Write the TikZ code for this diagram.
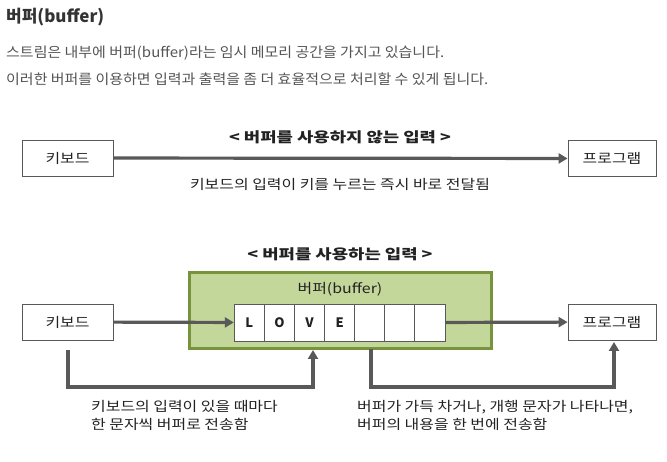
\documentclass[tikz,border=0pt]{standalone}
\usepackage{fontspec}
\setmainfont{Noto Sans CJK KR}
\newfontfamily\bodyfont[FakeStretch=1.07]{Noto Sans CJK KR}
\newfontfamily\diafont[FakeStretch=1.18]{Noto Sans CJK KR}
\newfontfamily\hdrfont[FakeStretch=1.27]{Noto Sans CJK KR}
\usetikzlibrary{arrows.meta}
\definecolor{titlec}{HTML}{333333}
\definecolor{bodyc}{HTML}{555555}
\definecolor{txtc}{HTML}{222222}
\definecolor{linec}{HTML}{595959}
\definecolor{boxc}{HTML}{595959}
\definecolor{gfill}{HTML}{C4D79B}
\definecolor{gdraw}{HTML}{77933C}
\tikzset{
  x=1pt,y=-1pt,
  plain/.style={inner sep=0pt,text=txtc,font=\diafont\fontsize{13.5}{16}\selectfont},
  hdr/.style={inner sep=0pt,text=txtc,font=\hdrfont\fontsize{14}{16}\selectfont\bfseries},
  devbox/.style={draw=boxc,line width=0.8pt,fill=white,minimum width=91pt,minimum height=36pt,inner sep=0pt,text=txtc,font=\diafont\fontsize{13.5}{16}\selectfont},
  cellbox/.style={draw=boxc,line width=0.8pt,fill=white,minimum width=30.1pt,minimum height=37pt,inner sep=0pt,text=txtc,font=\fontsize{13}{16}\selectfont\bfseries},
  conn/.style={draw=linec,line width=3.2pt,-{Triangle[length=9pt,width=10pt]}},
  conn2/.style={draw=linec,line width=3.2pt},
  note/.style={inner sep=0pt,text=txtc,align=left,font=\diafont\fontsize{13.5}{18}\selectfont}
}
\begin{document}
\begin{tikzpicture}
\useasboundingbox (0,0) rectangle (667,462);
\fill[white] (0,0) rectangle (667,462);
% header texts
\node[anchor=west,inner sep=0pt,text=titlec,font=\fontsize{17}{20}\selectfont\bfseries] (title) at (6,17) {버퍼(buffer)};
\node[anchor=west,inner sep=0pt,text=bodyc,font=\bodyfont\fontsize{14}{17}\selectfont] (l1) at (6,53) {스트림은 내부에 버퍼(buffer)라는 임시 메모리 공간을 가지고 있습니다.};
\node[anchor=west,inner sep=0pt,text=bodyc,font=\bodyfont\fontsize{14}{17}\selectfont] (l2) at (6,79) {이러한 버퍼를 이용하면 입력과 출력을 좀 더 효율적으로 처리할 수 있게 됩니다.};
% top diagram
\node[hdr] (h1) at (340,137) {< 버퍼를 사용하지 않는 입력 >};
\node[devbox] (kb1) at (67.5,158) {키보드};
\node[devbox,minimum width=88pt] (pg1) at (612,158.5) {프로그램};
\draw[conn] (kb1) -- (pg1);
\node[plain] (t1) at (340,184) {키보드의 입력이 키를 누르는 즉시 바로 전달됨};
% bottom diagram
\node[hdr] (h2) at (340,254) {< 버퍼를 사용하는 입력 >};
\node[draw=gdraw,fill=gfill,line width=2.6pt,minimum width=302pt,minimum height=76pt,inner sep=0pt] (gb) at (340.5,310.5) {};
\node[plain] (bl) at (340,289) {버퍼(buffer)};
\foreach \i/\c in {0/L,1/O,2/V,3/E,4/,5/,6/} {
  \node[cellbox] (c\i) at (249.3+\i*30.1,322.5) {\c};
}
\node[devbox] (kb2) at (67.5,322) {키보드};
\node[devbox,minimum width=88pt] (pg2) at (612,322) {프로그램};
\draw[conn] (kb2) -- (c0);
\draw[conn] (c6) -- (pg2);
% elbow connectors
\coordinate (a1) at (68,350);
\coordinate (a2) at (313,350);
\coordinate (b1) at (371,349);
\coordinate (b2) at (614,342);
\draw[conn2] (a1) -- (68,387) -- (313,387) -- (313,360);
\draw[conn] (313,388) -- (a2);
\draw[conn2] (b1) -- (371,387) -- (614,387) -- (614,352);
\draw[conn] (614,388) -- (b2);
\node[note,anchor=north west] (n1) at (91,400) {키보드의 입력이 있을 때마다\\한 문자씩 버퍼로 전송함};
\node[note,anchor=north west] (n2) at (357,400) {버퍼가 가득 차거나, 개행 문자가 나타나면,\\버퍼의 내용을 한 번에 전송함};
\end{tikzpicture}
\end{document}
